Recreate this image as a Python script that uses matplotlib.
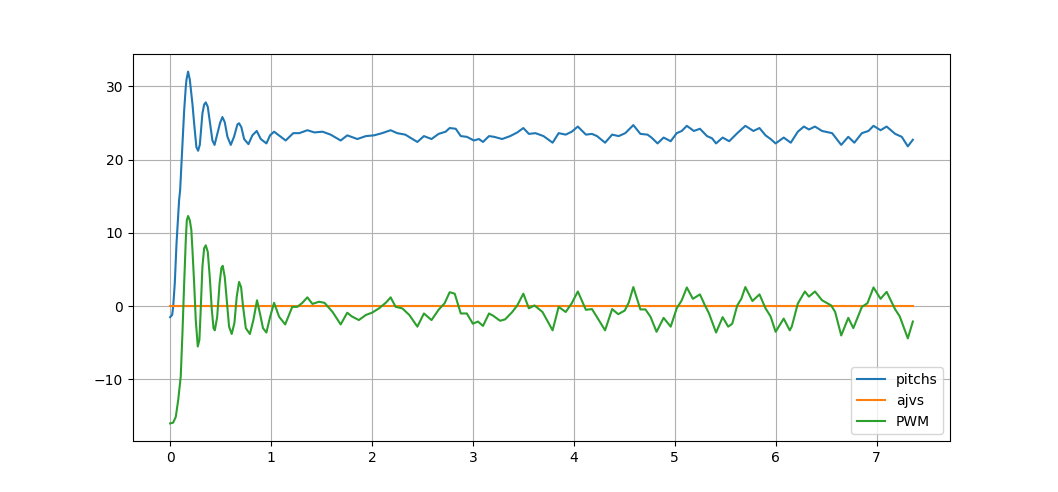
import matplotlib
matplotlib.use("Agg")
import matplotlib.pyplot as plt

# valores (tempo em s)
t_pitch = [0.0, 0.02, 0.03, 0.046, 0.063, 0.089, 0.099, 0.122, 0.139, 0.155, 0.162,
           0.178, 0.195, 0.221, 0.238, 0.26, 0.277, 0.294, 0.32, 0.337, 0.353,
           0.373, 0.396, 0.419, 0.44, 0.469, 0.495, 0.518, 0.541, 0.568, 0.601,
           0.633, 0.667, 0.683, 0.706, 0.733, 0.776, 0.815, 0.858, 0.898, 0.954,
           0.99, 1.03, 1.145, 1.22, 1.28, 1.36, 1.43, 1.51, 1.59, 1.69, 1.755, 1.855,
           1.94, 2.02, 2.10, 2.185, 2.25, 2.33, 2.45, 2.515, 2.59, 2.66, 2.73,
           2.77, 2.83, 2.88, 2.94, 3.01, 3.06, 3.10, 3.16, 3.21, 3.29, 3.37,
           3.44, 3.50, 3.555, 3.62, 3.70, 3.79, 3.85, 3.92, 3.98, 4.04, 4.12,
           4.18, 4.23, 4.31, 4.38, 4.445, 4.51, 4.59, 4.66, 4.73, 4.77, 4.83,
           4.89, 4.96, 5.02, 5.07, 5.12, 5.19, 5.25, 5.32, 5.37, 5.41, 5.475,
           5.54, 5.62, 5.70, 5.78, 5.84, 5.90, 5.95, 6.00, 6.08, 6.15, 6.22,
           6.28, 6.33, 6.39, 6.46, 6.56, 6.65, 6.72, 6.78, 6.855, 6.92, 6.97,
           7.04, 7.10, 7.185, 7.25, 7.31, 7.36]
pitchs = [-1.5, -1.2, -0.1, 3.1, 8.5, 14.5, 15.8, 22.2, 26.7, 29.9, 30.9,
          32.0, 30.9, 27.6, 24.9, 21.7, 21.2, 22.0, 26.3, 27.5, 27.8,
          27.2, 24.9, 22.6, 22.0, 23.6, 25.0, 25.8, 25.1, 23.1, 22.0,
          23.1, 24.8, 24.95, 24.4, 22.8, 22.1, 23.3, 23.9, 22.8, 22.2,
          23.3, 23.8, 22.6, 23.6, 23.6, 24.0, 23.7, 23.8, 23.4, 22.6, 23.3, 22.8,
          23.2, 23.3, 23.6, 24.0, 23.6, 23.4, 22.4, 23.2, 22.8, 23.5, 23.8,
          24.3, 24.2, 23.2, 23.1, 22.6, 22.8, 22.4, 23.2, 23.1, 22.8, 23.2,
          23.7, 24.3, 23.5, 23.6, 23.2, 22.3, 23.6, 23.4, 23.8, 24.5, 23.4,
          23.5, 23.2, 22.3, 23.4, 23.2, 23.6, 24.7, 23.5, 23.4, 23.0, 22.2,
          23.0, 22.5, 23.6, 23.9, 24.6, 23.9, 24.2, 23.2, 22.9, 22.2, 23.0,
          22.5, 23.6, 24.6, 23.9, 24.3, 23.3, 22.8, 22.2, 23.0, 22.3, 23.8,
          24.5, 24.1, 24.5, 23.9, 23.6, 22.0, 23.1, 22.3, 23.6, 23.9, 24.6,
          24.0, 24.5, 23.5, 23.1, 21.8, 22.7]

t_ajvs = [0.0, 7.36]
ajvs = [0.0, 0.0]

t_pwm = [0.0, 0.03, 0.056, 0.08, 0.105, 0.122, 0.139, 0.155, 0.165, 0.178,
         0.195, 0.21, 0.221, 0.238, 0.254, 0.274, 0.29, 0.303, 0.32, 0.337,
         0.353, 0.373, 0.393, 0.413, 0.43, 0.443, 0.466, 0.49, 0.508, 0.521,
         0.541, 0.561, 0.584, 0.61, 0.637, 0.66, 0.683, 0.703, 0.723, 0.75,
         0.79, 0.825, 0.861, 0.89, 0.92, 0.954, 0.99, 1.03,
         1.08, 1.14, 1.21, 1.26, 1.31, 1.36, 1.41,
         1.475, 1.53, 1.61, 1.69, 1.755, 1.80, 1.87, 1.94, 2.00, 2.07, 2.14,
         2.185, 2.235, 2.30, 2.37, 2.45, 2.515, 2.59, 2.66, 2.72, 2.77, 2.82,
         2.88, 2.94, 3.00, 3.05, 3.10, 3.16, 3.20, 3.27, 3.32, 3.39, 3.44,
         3.50, 3.555, 3.61, 3.69, 3.79, 3.85, 3.92, 3.98, 4.04, 4.12, 4.18,
         4.23, 4.31, 4.38, 4.44, 4.505, 4.545, 4.59, 4.66, 4.71, 4.76, 4.82,
         4.89, 4.96, 5.02, 5.07, 5.12, 5.18, 5.25, 5.30, 5.34, 5.41, 5.475,
         5.53, 5.57, 5.62, 5.66, 5.70, 5.77, 5.84, 5.90, 5.95, 6.00, 6.08,
         6.14, 6.16, 6.22, 6.29, 6.33, 6.39, 6.46, 6.55, 6.59, 6.65, 6.72,
         6.77, 6.855, 6.91, 6.97, 7.04, 7.10, 7.185, 7.23, 7.31, 7.36]
pwm = [-16.0, -15.9, -15.1, -12.8, -9.6, -3.7, 3.1, 9.0, 11.7, 12.3,
       11.7, 10.4, 7.7, 3.1, -1.9, -5.5, -4.6, -0.5, 5.4, 7.9,
       8.3, 7.4, 3.9, -0.5, -3.0, -3.3, -1.5, 3.1, 5.2, 5.5,
       4.0, 0.8, -2.8, -3.8, -2.3, 1.3, 3.3, 2.6, -0.1, -3.0,
       -3.8, -1.9, 0.8, -1.0, -3.0, -3.6, -1.5, 0.45,
       -1.45, -2.5, -0.1, -0.1, 0.45, 1.2, 0.3,
       0.6, 0.45, -0.8, -2.5, -0.9, -1.4, -1.9, -1.2, -0.9, -0.3, 0.5,
       1.2, -0.1, -0.3, -1.2, -2.8, -1.0, -1.9, -0.5, 0.4, 1.9, 1.7,
       -1.0, -1.0, -2.4, -2.1, -2.7, -1.0, -1.3, -2.0, -1.8, -0.8, 0.1,
       1.7, -0.3, 0.1, -0.8, -3.3, -0.1, -0.8, 0.4, 2.0, -0.5, -0.4,
       -1.5, -3.3, -0.4, -1.1, -0.6, 0.5, 2.6, -0.45, -0.45, -1.45, -3.5,
       -1.6, -2.8, -0.3, 0.8, 2.55, 1.0, 1.6, 0.1, -1.0, -3.6, -1.5,
       -2.8, -2.4, 0.1, 1.0, 2.6, 0.7, 1.6, -0.3, -1.4, -3.5, -1.7,
       -3.3, -2.8, 0.35, 2.0, 1.3, 2.0, 0.8, 0.1, -0.8, -4.0, -1.6,
       -3.0, -0.1, 0.4, 2.55, 1.0, 1.95, -0.45, -1.4, -4.4, -2.1]

fig = plt.figure(figsize=(10.58, 4.92), dpi=100)
ax = fig.add_axes([133 / 1058, 51 / 492, 817 / 1058, 387 / 492])

ax.plot(t_pitch, pitchs, label='pitchs')
ax.plot(t_ajvs, ajvs, label='ajvs')
ax.plot(t_pwm, pwm, label='PWM')

ax.grid(True)
ax.legend(loc='lower right')

fig.savefig('out.png', dpi=100)
